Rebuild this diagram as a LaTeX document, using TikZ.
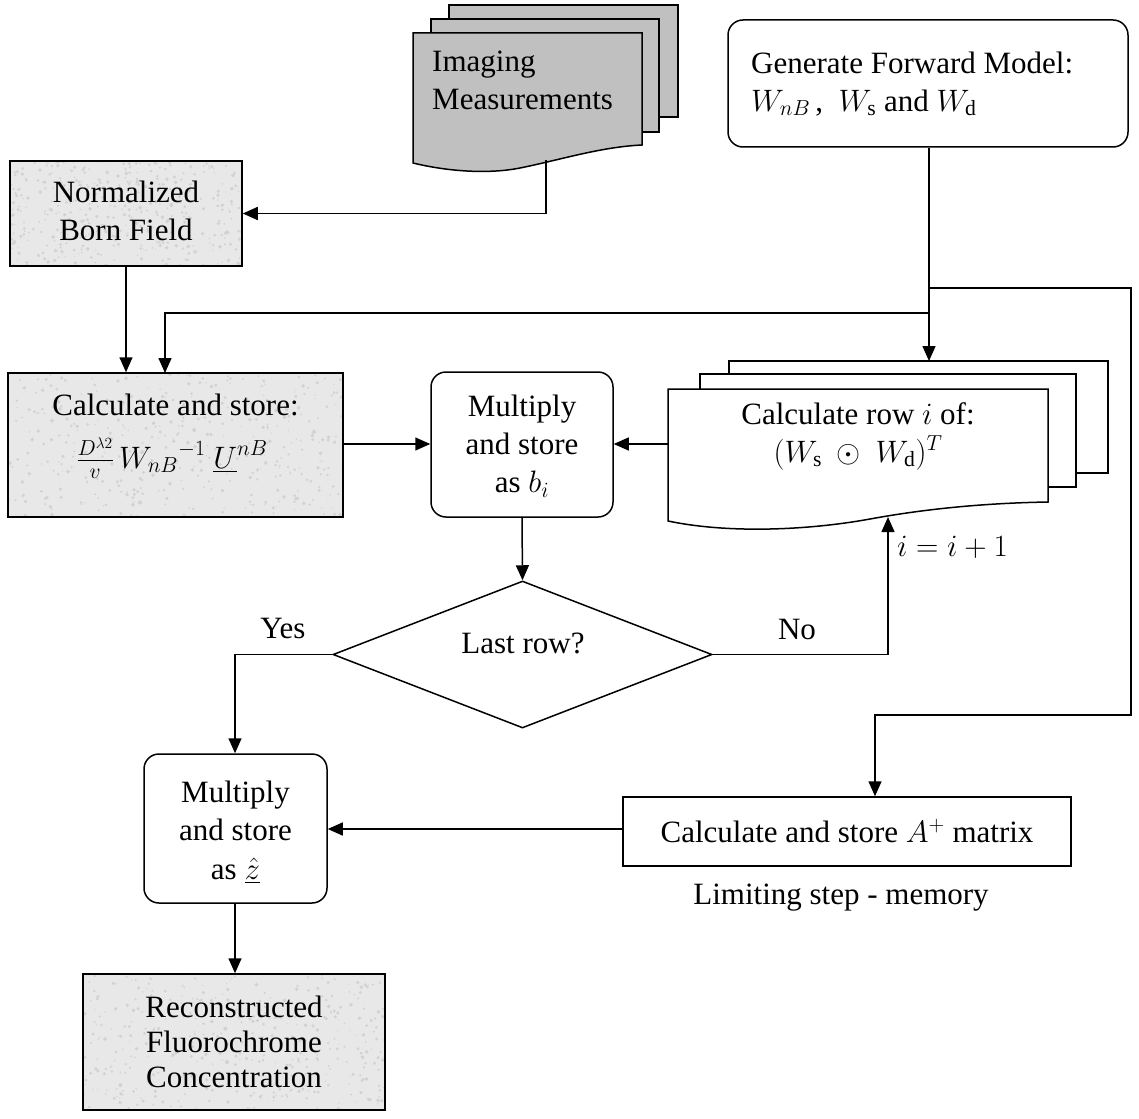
\documentclass[tikz,border=0pt]{standalone}
\usepackage{fix-cm}
\usepackage{amsmath}
\usepackage{fontspec}
\setmainfont{Liberation Serif}
\usetikzlibrary{arrows.meta,shapes.geometric}
\definecolor{docgray}{HTML}{C0C0C0}
\definecolor{grainbg}{HTML}{E8E8E8}
\definecolor{graindot}{HTML}{D2D2D2}
\newcommand\grainfill[4]{%
  \fill[grainbg] (#1,#2) rectangle (#3,#4);
  \begin{scope}
    \clip (#1,#2) rectangle (#3,#4);
    \foreach \k in {1,...,420}{%
      \pgfmathsetmacro\gx{#1+rnd*(#3-#1)}%
      \pgfmathsetmacro\gy{#2+rnd*(#4-#2)}%
      \pgfmathsetmacro\gr{0.6+1.4*rnd}%
      \fill[graindot] (\gx,\gy) circle (\gr pt);}
  \end{scope}}
\tikzset{
  txt/.style={font=\fontsize{31}{38}\selectfont, inner sep=0pt, align=center},
  plainbox/.style={draw, line width=1.5pt, inner sep=0pt},
  roundbox/.style={draw, line width=1.5pt, inner sep=0pt, rounded corners=15pt, fill=white},
  conn/.style={line width=1.5pt},
  arr/.style={line width=1.5pt, -{Triangle[length=15pt,width=13pt]}},
  sheet/.style={draw, line width=1.5pt}
}
\begin{document}
\begin{tikzpicture}[x=1pt,y=-1pt]
\useasboundingbox (0,0) rectangle (1139,1118);
\pgfmathsetseed{11}

% ---------- Imaging measurements (stacked documents)
\draw[sheet, fill=docgray] (449,5) rectangle (678,117);
\draw[sheet, fill=docgray] (431,19) rectangle (659,132);
\draw[sheet, fill=docgray] (413,33) -- (642,33) -- (642,145)
   .. controls (600,147) and (560,160) .. (520,168)
   .. controls (490,174) and (450,172) .. (413,163) -- cycle;
\coordinate (imgout) at (546,160);
\node[txt, anchor=west, align=left] (imgt) at (432,80) {Imaging\\Measurements};

% ---------- Generate forward model
\node[roundbox, minimum width=400, minimum height=127] (fwd) at (928,83.5) {};
\node[txt, anchor=west, align=left] (fwdt) at (751,84)
  {Generate Forward Model:\\$W_{nB}$\,,\ \ $W_{\mathrm{s}}$ and $W_{\mathrm{d}}$};

% ---------- Normalized Born field
\grainfill{10}{161}{242}{266}
\node[plainbox, minimum width=232, minimum height=105] (nbf) at (126,213.5) {};
\node[txt] (nbft) at (126,211) {Normalized\\Born Field};

% ---------- Calculate and store
\grainfill{8}{373}{343}{517}
\node[plainbox, minimum width=335, minimum height=144] (calc) at (175.5,445) {};
\node[txt] (calct) at (175.5,405) {Calculate and store:};
\node[txt] (calcf) at (172,458) {$\tfrac{D^{\lambda2}}{v}\,{W_{nB}}^{-1}\ \underline{U}^{nB}$};

% ---------- Multiply and store as b_i
\node[roundbox, minimum width=182, minimum height=145] (mulb) at (522,444.5) {};
\node[txt] (mulbt) at (522,446) {Multiply\\and store\\as $b_i$};

% ---------- Calculate row i (stacked documents)
\draw[sheet, fill=white] (729,361) rectangle (1108,473);
\draw[sheet, fill=white] (700,374) rectangle (1076,487);
\draw[sheet, fill=white] (668,389) -- (1048,389) -- (1048,502)
   .. controls (990,503) and (930,508) .. (870,519)
   .. controls (810,530) and (730,534) .. (668,521) -- cycle;
\coordinate (rowtop) at (929,361);
\coordinate (rowleft) at (668,444);
\coordinate (rowbot) at (888,517);
\node[txt] (rowt) at (858,436) {Calculate row $i$ of:\\$(W_{\mathrm{s}}\ \odot\ W_{\mathrm{d}})^{T}$};

% ---------- Decision
\node[draw, line width=1.5pt, diamond, inner sep=0pt, minimum width=379, minimum height=147] (dec) at (522.5,654.5) {};
\node[txt, anchor=base] (dect) at (523,653) {Last row?};

% ---------- Multiply and store as z
\node[roundbox, minimum width=183, minimum height=149] (mulz) at (235.5,828.5) {};
\node[txt] (mulzt) at (235.5,811) {Multiply\\and store};
\node[txt] (mulzz) at (235.5,871) {as $\underline{\hat{z}}$};

% ---------- A+ matrix
\node[plainbox, minimum width=448, minimum height=69, fill=white] (aplus) at (847,831.5) {};
\node[txt] (aplust) at (847,831) {Calculate and store $A^{+}$ matrix};
\node[txt] (limt) at (841,898) {Limiting step - memory};

% ---------- Reconstructed
\grainfill{83}{974}{385}{1110}
\node[plainbox, minimum width=302, minimum height=136] (rec) at (234,1042) {};
\node[txt] (rect) at (234,1042) {Reconstructed\\[-3pt]Fluorochrome\\[-3pt]Concentration};

% ---------- connectors
\coordinate (j1) at (929,288);
\coordinate (j2) at (929,313);
\draw[arr] (imgout) |- (nbf.east);
\draw[arr] (nbf.south) -- (nbf.south |- calc.north);
\draw[conn] (fwd.south -| j1) -- (j1);
\draw[arr] (j1) -- (rowtop);
\draw[arr] (j2) -| (165,373);
\draw[arr] (j1) -- (1131,288) -- (1131,715) -| (aplus.north -| 875,0);
\draw[arr] (calc.east |- 0,444) -- (mulb.west |- 0,444);
\draw[arr] (rowleft) -- (mulb.east |- rowleft);
\draw[arr] (mulb.south) -- (dec.north);
\draw[arr] (dec.east) -| (rowbot);
\draw[arr] (dec.west) -| (mulz.north -| 235,0);
\draw[arr] (aplus.west |- 0,829) -- (mulz.east |- 0,829);
\draw[arr] (mulz.south -| 235,0) -- (rec.north -| 235,0);

% ---------- labels
\node[txt] (yes) at (283,628) {Yes};
\node[txt] (no) at (797,629) {No};
\node[txt, anchor=west] (inc) at (897,547) {$i = i + 1$};
\end{tikzpicture}
\end{document}
